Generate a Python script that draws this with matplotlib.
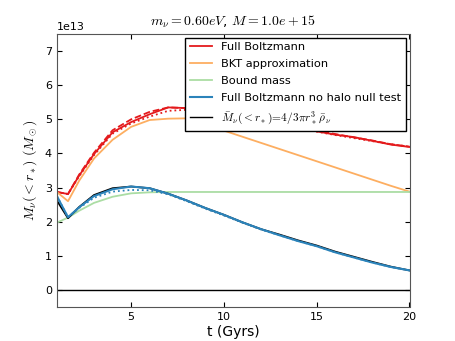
import numpy as np
import matplotlib
matplotlib.use('Agg')
import matplotlib.pyplot as plt

plt.rcParams['mathtext.fontset'] = 'cm'
plt.rcParams['font.size'] = 8

# time grid (Gyrs)
t = [1.0, 1.6, 2.2, 3.0, 4.0, 5.0, 6.0, 7.0, 8.0, 9.0, 10.0, 11.0, 12.0,
     13.0, 14.0, 15.0, 16.0, 17.0, 18.0, 19.0, 20.0]

full_boltz = [2.87, 2.81, 3.35, 3.98, 4.62, 4.92, 5.15, 5.35, 5.33, 5.25, 5.15,
              5.05, 4.95, 4.85, 4.75, 4.65, 4.55, 4.48, 4.37, 4.26, 4.19]
full_boltz_dash = [2.87, 2.81, 3.38, 4.02, 4.68, 5.0, 5.22, 5.35, 5.33, 5.25, 5.15,
                   5.06, 4.96, 4.86, 4.76, 4.66, 4.57, 4.47, 4.38, 4.27, 4.2]
full_boltz_dot = [2.87, 2.81, 3.33, 3.95, 4.58, 4.88, 5.08, 5.25, 5.28, 5.22, 5.13,
                  5.04, 4.94, 4.84, 4.74, 4.64, 4.54, 4.45, 4.36, 4.27, 4.2]
bkt = [2.87, 2.6, 3.2, 3.85, 4.4, 4.78, 4.98, 5.02, 5.03, 4.85, 4.67,
       4.49, 4.31, 4.13, 3.95, 3.77, 3.59, 3.41, 3.23, 3.05, 2.88]
bound = [1.97, 2.12, 2.32, 2.55, 2.73, 2.83, 2.86, 2.87, 2.87, 2.87, 2.87,
         2.87, 2.87, 2.87, 2.87, 2.87, 2.87, 2.87, 2.87, 2.87, 2.87]
null_test = [2.75, 2.13, 2.42, 2.75, 2.95, 3.03, 2.98, 2.82, 2.62, 2.4, 2.2,
             1.98, 1.78, 1.6, 1.43, 1.28, 1.1, 0.95, 0.8, 0.67, 0.57]
null_test_dot = [2.75, 2.13, 2.4, 2.7, 2.88, 2.93, 2.92, 2.8, 2.6, 2.38, 2.18,
                 1.97, 1.77, 1.6, 1.43, 1.28, 1.1, 0.95, 0.8, 0.67, 0.57]
mean_mass = [2.62, 2.1, 2.43, 2.78, 2.98, 3.03, 2.98, 2.82, 2.62, 2.4, 2.2,
             1.98, 1.78, 1.62, 1.45, 1.3, 1.12, 0.97, 0.82, 0.68, 0.57]
zero_line = [0.0, 0.0]
zero_t = [1.0, 20.0]

scale = 1e13

fig = plt.figure(figsize=(4.55, 3.41), dpi=100)
ax = fig.add_axes([0.125, 0.1, 0.775, 0.8])

red = '#e41a1c'
orange = '#fdae61'
green = '#abdda4'
blue = '#2b83ba'

ax.plot(t, np.array(full_boltz) * scale, color=red, lw=1.3, label='Full Boltzmann')
ax.plot(t, np.array(full_boltz_dash) * scale, '--', color=red, lw=1.3)
ax.plot(t, np.array(full_boltz_dot) * scale, ':', color=red, lw=1.3)
ax.plot(t, np.array(bkt) * scale, color=orange, lw=1.3, label='BKT approximation')
ax.plot(t, np.array(bound) * scale, color=green, lw=1.3, label='Bound mass')
ax.plot(t, np.array(mean_mass) * scale, color='black', lw=1.3)
ax.plot(t, np.array(null_test) * scale, color=blue, lw=1.5,
        label='Full Boltzmann no halo null test')
ax.plot(t, np.array(null_test_dot) * scale, ':', color=blue, lw=1.3)
ax.plot(zero_t, zero_line, color='black', lw=1.0,
        label=r'$\bar{M}_\nu(<r_*)\!=\!4/3\pi r_*^3\,\bar{\rho}_\nu$')

ax.set_xlim(1, 20)
ax.set_ylim(-0.5e13, 7.5e13)
ax.set_xticks([5, 10, 15, 20])
ax.set_yticks([0, 1e13, 2e13, 3e13, 4e13, 5e13, 6e13, 7e13])
ax.set_xlabel('t (Gyrs)', fontsize=10, labelpad=2)
ax.set_ylabel(r'$M_\nu(<r_*)\ (M_\odot)$', fontsize=10)
ax.set_title(r'$m_\nu=0.60eV$, $M=1.0e+15$', fontsize=10)
ax.tick_params(direction='in', labelsize=8, top=True, right=True)
for s in ax.spines.values():
    s.set_color('#555555')

leg = ax.legend(loc='upper right', fontsize=8.2, fancybox=False,
                framealpha=1, handlelength=2, borderaxespad=0.3,
                labelspacing=0.6)
leg.get_frame().set_edgecolor('black')

fig.savefig('out.png', dpi=100)
